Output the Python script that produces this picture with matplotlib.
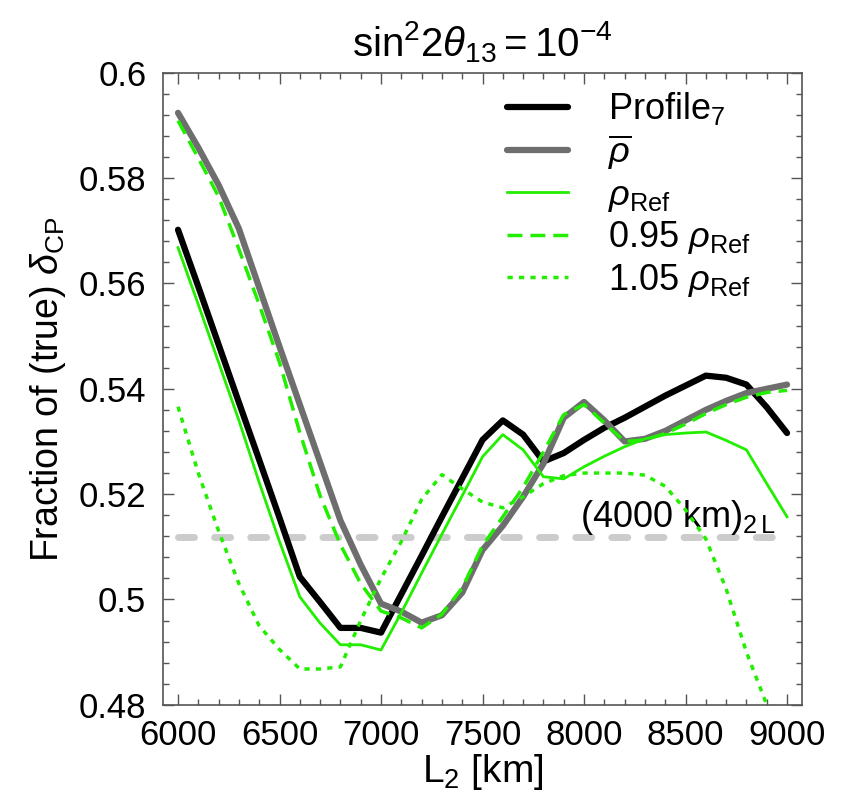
import numpy as np
import matplotlib
matplotlib.use("Agg")
from matplotlib import pyplot as plt
from matplotlib.ticker import MultipleLocator, FormatStrFormatter

plt.rcParams['font.family'] = ['Liberation Sans', 'DejaVu Sans']
plt.rcParams['mathtext.fontset'] = 'custom'
plt.rcParams['mathtext.rm'] = 'Liberation Sans'
plt.rcParams['mathtext.it'] = 'Liberation Sans:italic'
plt.rcParams['mathtext.bf'] = 'Liberation Sans:bold'

# baseline L2 in km, one point per 100 km
L2 = list(range(6000, 9001, 100))

profile7 = [0.5702, 0.5594, 0.5484, 0.5374, 0.5265, 0.5155, 0.5043, 0.4995, 0.4946, 0.4946,
            0.4937, 0.5010, 0.5083, 0.5157, 0.5230, 0.5303, 0.5340, 0.5313, 0.5262, 0.5278,
            0.5303, 0.5326, 0.5345, 0.5366, 0.5387, 0.5406, 0.5425, 0.5421, 0.5408, 0.5365,
            0.5316]
rho_bar = [0.5924, 0.5858, 0.5787, 0.5704, 0.5592, 0.5480, 0.5370, 0.5260, 0.5150, 0.5066,
           0.4992, 0.4977, 0.4956, 0.4970, 0.5013, 0.5094, 0.5140, 0.5195, 0.5258, 0.5345,
           0.5375, 0.5340, 0.5300, 0.5305, 0.5320, 0.5340, 0.5360, 0.5377, 0.5392, 0.5400,
           0.5408]
rho_ref = [0.5668, 0.5560, 0.5450, 0.5340, 0.5222, 0.5110, 0.5005, 0.4955, 0.4914, 0.4914,
           0.4904, 0.4975, 0.5050, 0.5124, 0.5197, 0.5271, 0.5313, 0.5284, 0.5233, 0.5229,
           0.5252, 0.5272, 0.5290, 0.5305, 0.5313, 0.5316, 0.5318, 0.5302, 0.5284, 0.5220,
           0.5157]
rho_095 = [0.5909, 0.5838, 0.5765, 0.5665, 0.5560, 0.5450, 0.5317, 0.5197, 0.5104, 0.5030,
           0.4978, 0.4965, 0.4946, 0.4972, 0.5022, 0.5102, 0.5157, 0.5213, 0.5280, 0.5351,
           0.5370, 0.5335, 0.5300, 0.5303, 0.5315, 0.5333, 0.5353, 0.5370, 0.5384, 0.5393,
           0.5397]
rho_105 = [0.5366, 0.5240, 0.5130, 0.5030, 0.4950, 0.4905, 0.4868, 0.4868, 0.4872, 0.4960,
           0.5040, 0.5110, 0.5190, 0.5237, 0.5210, 0.5185, 0.5174, 0.5195, 0.5220, 0.5235,
           0.5240, 0.5240, 0.5240, 0.5236, 0.5215, 0.5170, 0.5115, 0.5020, 0.4900, 0.4800,
           0.4700]
ref_level = 0.5119  # (4000 km)_2L value

green = '#22ee00'

fig = plt.figure(figsize=(8.56, 8.0), dpi=100)
ax = fig.add_axes([0.1904, 0.119, 0.7466, 0.790])

ax.hlines(ref_level, L2[0], L2[-1], color='#cccccc', lw=5, linestyle=(0, (2.3, 2.9)),
          capstyle='round', zorder=1)
ax.text(8945, 0.5137, r'(4000 km)$_{2\,\mathrm{L}}$', fontsize=26, ha='right', va='baseline')

ax.plot(L2, profile7, color='black', lw=4.5, label=r'Profile$_7$', solid_capstyle='round', zorder=3)
ax.plot(L2, rho_bar, color='#6e6e6e', lw=4.5, label=r'$\overline{\rho}$', solid_capstyle='round', zorder=3)
ax.plot(L2, rho_ref, color=green, lw=2, label=r'$\rho_{\mathrm{Ref}}$', zorder=4)
ax.plot(L2, rho_095, color=green, lw=2.5, linestyle=(0, (4.3, 2.3)), label=r'0.95 $\rho_{\mathrm{Ref}}$', zorder=4)
ax.plot(L2, rho_105, color=green, lw=2.5, linestyle=(0, (1.5, 1.8)), label=r'1.05 $\rho_{\mathrm{Ref}}$', zorder=4)

ax.set_xlim(5926, 9074)
ax.set_ylim(0.48, 0.6)
ax.xaxis.set_major_locator(MultipleLocator(500))
ax.xaxis.set_minor_locator(MultipleLocator(100))
ax.yaxis.set_major_locator(MultipleLocator(0.02))
ax.yaxis.set_minor_locator(MultipleLocator(0.004))
ax.yaxis.set_major_formatter(FormatStrFormatter('%g'))
ax.tick_params(which='both', direction='in', top=True, right=True, color='#555555', labelsize=25)
ax.tick_params(which='major', length=8, width=1)
ax.tick_params(which='minor', length=4, width=1)
ax.tick_params(axis='y', pad=12)
ax.tick_params(axis='x', pad=10)
for sp in ax.spines.values():
    sp.set_color('#555555')
    sp.set_linewidth(1.2)

ax.set_title(r'$\mathrm{sin}^2 2\theta_{13}{=}10^{-4}$', fontsize=29, pad=12)
ax.set_xlabel(r'L$_2$ [km]', fontsize=28, labelpad=0)
ax.set_ylabel(r'Fraction of (true) $\delta_{\mathrm{CP}}$', fontsize=27, labelpad=8)

ax.legend(loc='upper left', bbox_to_anchor=(0.592, 0.887), bbox_transform=fig.transFigure,
          frameon=False, fontsize=26, handlelength=1.7, handletextpad=1.1, labelspacing=0.15,
          borderpad=0, borderaxespad=0)

fig.savefig('out.png', dpi=100)
